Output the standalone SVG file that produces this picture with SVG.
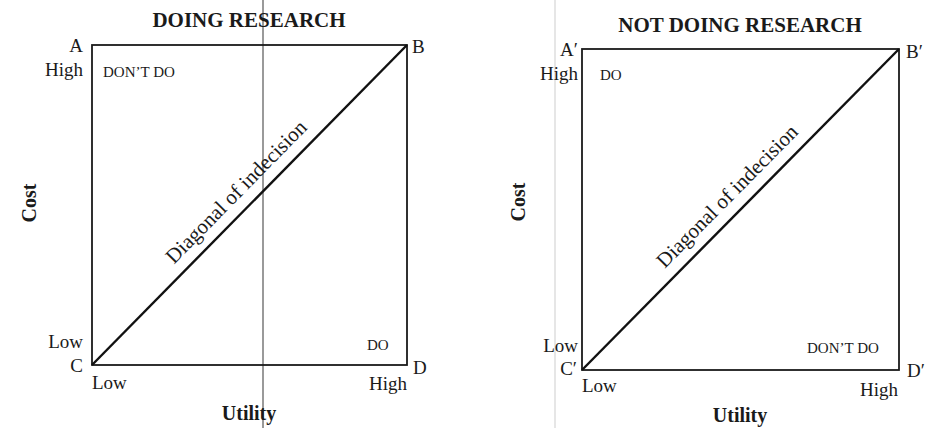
<svg xmlns="http://www.w3.org/2000/svg" width="933" height="428" viewBox="0 0 933 428">
<style>
.t{font-family:"Liberation Serif","Times New Roman",serif;fill:#1a1a1a}
.lab{font-size:19px}
.b{font-weight:bold;font-size:20px}
.ti{font-size:21px}
.sc{font-size:15px}
.dg{font-size:21px}
.box{fill:none;stroke:#1a1a1a;stroke-width:1.8}
.diag{stroke:#111;stroke-width:2.4}
.r{text-anchor:end}
.m{text-anchor:middle}
</style>
<rect width="933" height="428" fill="#fff"/>
<line x1="263" y1="0" x2="263" y2="428" stroke="#9a9a9a" stroke-width="2"/>
<line x1="555" y1="0" x2="555" y2="428" stroke="#e6e6e6" stroke-width="2"/>

<g id="chart-doing">
<text class="t b ti m" x="249" y="27">DOING RESEARCH</text>
<rect class="box" x="92" y="45" width="315" height="320"/>
<text class="t lab r" x="83" y="52">A</text>
<text class="t lab r" x="83" y="76">High</text>
<text class="t sc" x="103" y="77">DON’T DO</text>
<text class="t lab" x="412" y="53">B</text>
<text class="t lab r" x="83" y="348">Low</text>
<text class="t lab r" x="83" y="372">C</text>
<text class="t sc" x="367" y="350">DO</text>
<text class="t lab" x="413" y="374">D</text>
<text class="t lab" x="92" y="389">Low</text>
<text class="t lab r" x="407" y="390">High</text>
<text class="t b m" x="249" y="420">Utility</text>
<text class="t b m" transform="translate(36,203) rotate(-90)">Cost</text>
</g>

<g id="chart-not-doing">
<text class="t b ti m" x="740" y="32">NOT DOING RESEARCH</text>
<rect class="box" x="582" y="49" width="317" height="321"/>
<text class="t lab r" x="578" y="56">A′</text>
<text class="t lab r" x="578" y="80">High</text>
<text class="t sc" x="600" y="80">DO</text>
<text class="t lab" x="906" y="58">B′</text>
<text class="t lab r" x="578" y="352">Low</text>
<text class="t lab r" x="577" y="375">C′</text>
<text class="t sc" x="807" y="353">DON’T DO</text>
<text class="t lab" x="907" y="377">D′</text>
<text class="t lab" x="582" y="392">Low</text>
<text class="t lab r" x="898" y="396">High</text>
<text class="t b m" x="740" y="422">Utility</text>
<text class="t b m" transform="translate(525,202) rotate(-90)">Cost</text>
</g>

<g id="connectors">
<line class="diag" x1="92" y1="365" x2="407" y2="45"/>
<line class="diag" x1="582" y1="370" x2="899" y2="49"/>
<text class="t dg m" transform="translate(241,196.6) rotate(-45.45)">Diagonal of indecision</text>
<text class="t dg m" transform="translate(732,201) rotate(-45.36)">Diagonal of indecision</text>
</g>
</svg>
